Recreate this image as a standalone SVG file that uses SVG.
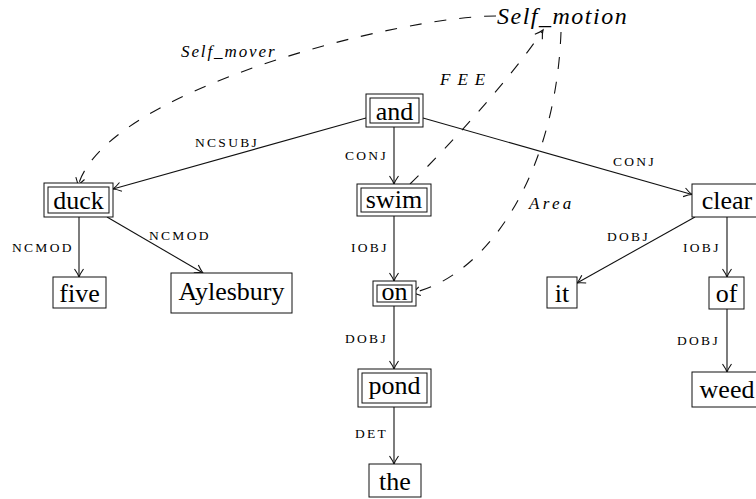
<svg xmlns="http://www.w3.org/2000/svg" width="756" height="499" viewBox="0 0 756 499">
  <defs>
    <style>
      .box { fill: #fff; stroke: #111; stroke-width: 1; }
      .word { font-family: "Liberation Serif", "Times New Roman", serif; font-size: 26px; fill: #000; text-anchor: middle; }
      .rel { font-family: "Liberation Serif", "Times New Roman", serif; font-size: 13.5px; letter-spacing: 2.3px; fill: #000; }
      .role { font-family: "Liberation Serif", "Times New Roman", serif; font-style: italic; fill: #000; }
      .dep { fill: none; stroke: #111; stroke-width: 1.1; marker-end: url(#tip); }
      .frame { fill: none; stroke: #111; stroke-width: 1.1; stroke-dasharray: 12 13; marker-end: url(#tip); }
    </style>
    <marker id="tip" viewBox="-10 -6 12 12" refX="0" refY="0" markerWidth="12" markerHeight="12" markerUnits="userSpaceOnUse" orient="auto">
      <path d="M-8,-4.5 Q-3,-1 0,0 Q-3,1 -8,4.5" fill="none" stroke="#111" stroke-width="1.1" stroke-dasharray="none"/>
    </marker>
  </defs>

  <!-- dependency edges and frame-element links -->
  <g id="connectors">
    <path class="dep" d="M366 118 L113 189"/>
    <path class="dep" d="M394 127 L394 184"/>
    <path class="dep" d="M423 118 L692 194.5"/>
    <path class="dep" d="M79 217 L79 277"/>
    <path class="dep" d="M107 217 L203 273"/>
    <path class="dep" d="M394 216 L394 281"/>
    <path class="dep" d="M394 306 L394 369"/>
    <path class="dep" d="M394 407 L394 464"/>
    <path class="dep" d="M695 217 L577 283"/>
    <path class="dep" d="M727 217 L727 277"/>
    <path class="dep" d="M727 309 L727 372"/>

    <path class="frame" d="M496 16 C400 16 105 90 78 186"/>
    <path class="frame" d="M410 184 C445 150 510 80 543 30"/>
    <path class="frame" d="M561 32 C556 170 490 275 412 293"/>

    <text class="rel" x="195" y="147">NCSUBJ</text>
    <text class="rel" x="345" y="160">CONJ</text>
    <text class="rel" x="613" y="166">CONJ</text>
    <text class="rel" x="12" y="252">NCMOD</text>
    <text class="rel" x="149" y="240">NCMOD</text>
    <text class="rel" x="351" y="252">IOBJ</text>
    <text class="rel" x="345" y="343">DOBJ</text>
    <text class="rel" x="355" y="438">DET</text>
    <text class="rel" x="607" y="241">DOBJ</text>
    <text class="rel" x="683" y="252">IOBJ</text>
    <text class="rel" x="677" y="345">DOBJ</text>

    <text class="role" x="181" y="57" font-size="17" letter-spacing="1.9">Self_mover</text>
    <text class="role" x="440" y="85" font-size="17" letter-spacing="7">FEE</text>
    <text class="role" x="529" y="209" font-size="17" letter-spacing="3.3">Area</text>
  </g>

  <!-- frame node -->
  <g id="self_motion">
    <text class="role" x="497" y="24" font-size="24" letter-spacing="1.5">Self_motion</text>
  </g>

  <!-- word nodes (double frame = frame-annotated word) -->
  <g id="and">
    <rect class="box" x="366" y="94" width="57" height="33"/>
    <rect class="box" x="370" y="98" width="49" height="25"/>
    <text class="word" x="394.5" y="120">and</text>
  </g>
  <g id="duck">
    <rect class="box" x="44" y="183" width="69" height="34"/>
    <rect class="box" x="48" y="187" width="61" height="26"/>
    <text class="word" x="78.5" y="209">duck</text>
  </g>
  <g id="swim">
    <rect class="box" x="357" y="184" width="74" height="32"/>
    <rect class="box" x="361" y="188" width="66" height="24"/>
    <text class="word" x="394" y="208">swim</text>
  </g>
  <g id="clear">
    <rect class="box" x="692" y="184" width="70" height="33"/>
    <text class="word" x="727" y="209">clear</text>
  </g>
  <g id="five">
    <rect class="box" x="53" y="277" width="53" height="31"/>
    <text class="word" x="79.5" y="302">five</text>
  </g>
  <g id="aylesbury">
    <rect class="box" x="171" y="273" width="121" height="40"/>
    <text class="word" x="231.5" y="300">Aylesbury</text>
  </g>
  <g id="on">
    <rect class="box" x="373" y="281" width="43" height="25"/>
    <rect class="box" x="377" y="285" width="35" height="17"/>
    <text class="word" x="394.5" y="299.5">on</text>
  </g>
  <g id="it">
    <rect class="box" x="547" y="277" width="30" height="31"/>
    <text class="word" x="562" y="302">it</text>
  </g>
  <g id="of">
    <rect class="box" x="709" y="277" width="35" height="32"/>
    <text class="word" x="726.5" y="302">of</text>
  </g>
  <g id="pond">
    <rect class="box" x="358" y="369" width="73" height="38"/>
    <rect class="box" x="362" y="373" width="65" height="30"/>
    <text class="word" x="394.5" y="394">pond</text>
  </g>
  <g id="weed">
    <rect class="box" x="692" y="372" width="70" height="35"/>
    <text class="word" x="727" y="398">weed</text>
  </g>
  <g id="the">
    <rect class="box" x="369" y="464" width="52" height="33"/>
    <text class="word" x="395" y="490">the</text>
  </g>
</svg>
